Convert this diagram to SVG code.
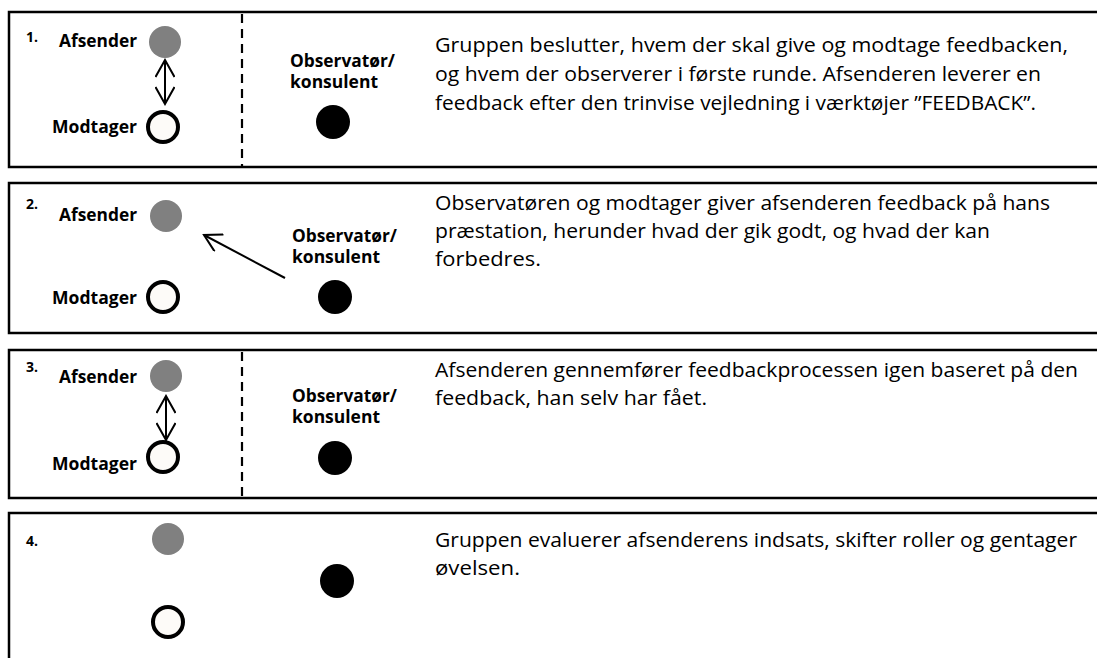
<svg xmlns="http://www.w3.org/2000/svg" width="1097" height="658" viewBox="0 0 1097 658">
<defs>
<style>
.box{fill:#fff;stroke:#000;stroke-width:2.5}
.dash{stroke:#000;stroke-width:2.2;stroke-dasharray:9 6}
.lbl{font-family:"Open Sans","Liberation Sans",sans-serif;font-weight:bold;font-size:17px;fill:#000}
.num{font-family:"Open Sans","Liberation Sans",sans-serif;font-weight:bold;font-size:14px;fill:#000}
.txt{font-family:"Open Sans","Liberation Sans",sans-serif;font-size:20px;fill:#000}
.gray{fill:#808080}
.white{fill:#fdfbf8;stroke:#000;stroke-width:4}
.black{fill:#000}
.conn{fill:none;stroke:#000;stroke-width:2}
</style>
<marker id="open" viewBox="0 0 20 20" refX="18" refY="10" markerWidth="20" markerHeight="20" markerUnits="userSpaceOnUse" orient="auto-start-reverse">
<path d="M1,0.5 L18,10 L1,19.5" fill="none" stroke="#000" stroke-width="2"/>
</marker>
</defs>
<rect width="1097" height="658" fill="#fff"/>

<g id="step1">
<rect class="box" x="9" y="12" width="1100" height="155"/>
<line class="dash" x1="242" y1="14" x2="242" y2="166"/>
<text class="num" x="26" y="42">1.</text>
<text class="lbl" x="59" y="47" textLength="78" lengthAdjust="spacingAndGlyphs">Afsender</text>
<text class="lbl" x="52" y="133" textLength="85" lengthAdjust="spacingAndGlyphs">Modtager</text>
<text class="lbl" x="290" y="67" textLength="105" lengthAdjust="spacingAndGlyphs">Observatør/</text>
<text class="lbl" x="290" y="88" textLength="88" lengthAdjust="spacingAndGlyphs">konsulent</text>
<circle id="s1-afsender" class="gray" cx="165" cy="42" r="16"/>
<circle id="s1-modtager" class="white" cx="163" cy="127" r="15"/>
<circle id="s1-observator" class="black" cx="333" cy="122" r="17"/>
<text class="txt" x="435" y="52" textLength="633" lengthAdjust="spacingAndGlyphs">Gruppen beslutter, hvem der skal give og modtage feedbacken,</text>
<text class="txt" x="435" y="81" textLength="606" lengthAdjust="spacingAndGlyphs">og hvem der observerer i første runde. Afsenderen leverer en</text>
<text class="txt" x="435" y="110" textLength="601" lengthAdjust="spacingAndGlyphs">feedback efter den trinvise vejledning i værktøjer ”FEEDBACK”.</text>
</g>

<g id="step2">
<rect class="box" x="9" y="183" width="1100" height="150"/>
<text class="num" x="26" y="209">2.</text>
<text class="lbl" x="59" y="221" textLength="78" lengthAdjust="spacingAndGlyphs">Afsender</text>
<text class="lbl" x="52" y="304" textLength="85" lengthAdjust="spacingAndGlyphs">Modtager</text>
<text class="lbl" x="292" y="242" textLength="105" lengthAdjust="spacingAndGlyphs">Observatør/</text>
<text class="lbl" x="292" y="263" textLength="88" lengthAdjust="spacingAndGlyphs">konsulent</text>
<circle id="s2-afsender" class="gray" cx="166" cy="216" r="16"/>
<circle id="s2-modtager" class="white" cx="163" cy="297" r="15"/>
<circle id="s2-observator" class="black" cx="335" cy="297" r="17"/>
<text class="txt" x="435" y="210" textLength="615" lengthAdjust="spacingAndGlyphs">Observatøren og modtager giver afsenderen feedback på hans</text>
<text class="txt" x="435" y="238" textLength="555" lengthAdjust="spacingAndGlyphs">præstation, herunder hvad der gik godt, og hvad der kan</text>
<text class="txt" x="435" y="266" textLength="106" lengthAdjust="spacingAndGlyphs">forbedres.</text>
</g>

<g id="step3">
<rect class="box" x="9" y="350" width="1100" height="148"/>
<line class="dash" x1="242" y1="352" x2="242" y2="497"/>
<text class="num" x="26" y="372">3.</text>
<text class="lbl" x="59" y="383" textLength="78" lengthAdjust="spacingAndGlyphs">Afsender</text>
<text class="lbl" x="52" y="470" textLength="85" lengthAdjust="spacingAndGlyphs">Modtager</text>
<text class="lbl" x="292" y="402" textLength="105" lengthAdjust="spacingAndGlyphs">Observatør/</text>
<text class="lbl" x="292" y="423" textLength="88" lengthAdjust="spacingAndGlyphs">konsulent</text>
<circle id="s3-afsender" class="gray" cx="166" cy="376" r="16"/>
<circle id="s3-modtager" class="white" cx="163" cy="457" r="15"/>
<circle id="s3-observator" class="black" cx="335" cy="458" r="17"/>
<text class="txt" x="435" y="377" textLength="643" lengthAdjust="spacingAndGlyphs">Afsenderen gennemfører feedbackprocessen igen baseret på den</text>
<text class="txt" x="435" y="405" textLength="272" lengthAdjust="spacingAndGlyphs">feedback, han selv har fået.</text>
</g>

<g id="step4">
<rect class="box" x="9" y="513" width="1100" height="160"/>
<text class="num" x="26" y="546">4.</text>
<circle id="s4-afsender" class="gray" cx="168" cy="539" r="16"/>
<circle id="s4-modtager" class="white" cx="168" cy="622" r="15"/>
<circle id="s4-observator" class="black" cx="337" cy="581" r="17"/>
<text class="txt" x="435" y="547" textLength="642" lengthAdjust="spacingAndGlyphs">Gruppen evaluerer afsenderens indsats, skifter roller og gentager</text>
<text class="txt" x="435" y="575" textLength="85" lengthAdjust="spacingAndGlyphs">øvelsen.</text>
</g>

<g id="connectors">
<line class="conn" x1="165" y1="60" x2="165" y2="104" marker-start="url(#open)" marker-end="url(#open)"/>
<line class="conn" x1="285" y1="278" x2="204" y2="235" marker-end="url(#open)"/>
<line class="conn" x1="166" y1="396" x2="166" y2="440" marker-start="url(#open)" marker-end="url(#open)"/>
</g>
</svg>
